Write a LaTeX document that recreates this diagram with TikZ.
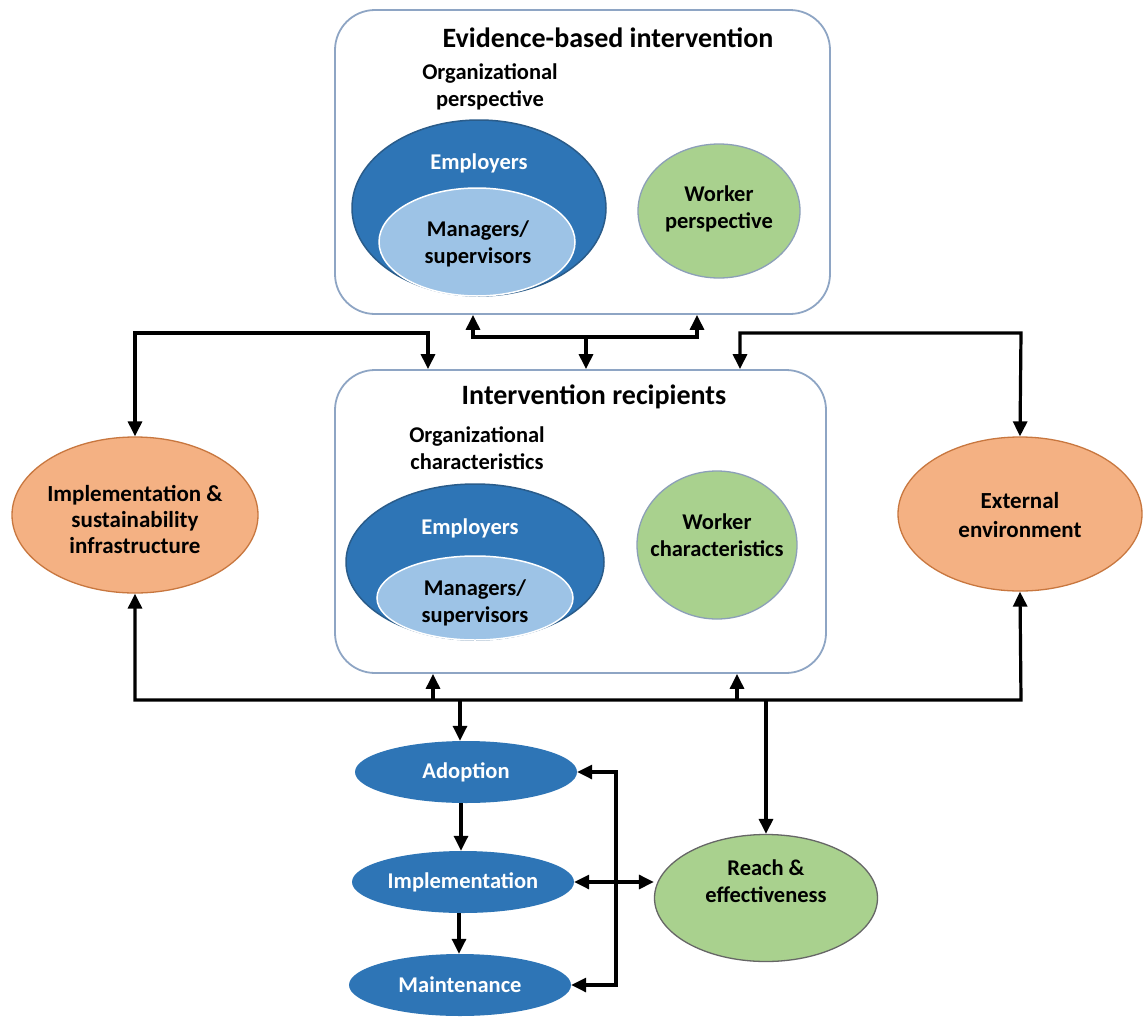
\documentclass[tikz,border=0pt]{standalone}
\usepackage{fontspec}
\setmainfont{Carlito}
\usetikzlibrary{shapes.geometric,arrows.meta,calc}
\definecolor{boxc}{HTML}{8EA5C4}
\definecolor{empf}{HTML}{2E75B6}
\definecolor{empd}{HTML}{2A5C8A}
\definecolor{mgrf}{HTML}{9DC3E6}
\definecolor{grnf}{HTML}{A9D18E}
\definecolor{grnd}{HTML}{8C9FB8}
\definecolor{orgf}{HTML}{F4B183}
\definecolor{orgd}{HTML}{C8773F}
\begin{document}
\begin{tikzpicture}[x=1pt,y=-1pt,
  box/.style={draw=boxc, line width=1.8pt, rounded corners=40pt, fill=white},
  ell/.style={ellipse, inner sep=0pt},
  emp/.style={ell, fill=empf, draw=empd, line width=1.5pt},
  mgr/.style={ell, fill=mgrf, draw=white, line width=1.5pt},
  grn/.style={ell, fill=grnf, draw=grnd, line width=1.3pt},
  org/.style={ell, fill=orgf, draw=orgd, line width=1.3pt},
  blu/.style={ell, fill=empf, draw=none},
  ttl/.style={font=\fontsize{28}{32}\selectfont\bfseries, text=black},
  lbl/.style={font=\fontsize{22.5}{27}\selectfont\bfseries, text=black, align=center},
  wlbl/.style={lbl, text=white},
  con/.style={line width=3.2pt, black},
  arr/.style={con, -{Triangle[length=15pt,width=14pt]}},
  dbl/.style={con, {Triangle[length=15pt,width=14pt]}-{Triangle[length=15pt,width=14pt]}}
]
\useasboundingbox (0,0) rectangle (1144,1026);
\fill[white] (0,0) rectangle (1144,1026);

% top box
\node[box, minimum width=495pt, minimum height=304pt] (top) at (582.5,162) {};
\node[ttl] (toptitle) at (608,38) {Evidence-based intervention};
\node[lbl] (orgp) at (490,87) {Organizational\\perspective};
\node[emp, minimum width=254pt, minimum height=176pt] (emp1) at (479,208) {};
\node[wlbl] (emp1t) at (479,163) {Employers};
\node[mgr, minimum width=196pt, minimum height=108pt] (mgr1) at (477,242) {};
\node[lbl] (mgr1t) at (478,244) {Managers/\\supervisors};
\node[grn, minimum width=162pt, minimum height=134pt] (wp) at (719,211) {};
\node[lbl] (wpt) at (719,209) {Worker\\perspective};

% middle box
\node[box, minimum width=491pt, minimum height=303pt] (mid) at (580.5,521.5) {};
\node[ttl] (midtitle) at (594,397) {Intervention recipients};
\node[lbl] (orgc) at (477,448) {Organizational\\characteristics};
\node[emp, minimum width=258pt, minimum height=156pt] (emp2) at (475,562) {};
\node[wlbl] (emp2t) at (470,528) {Employers};
\node[mgr, minimum width=196pt, minimum height=84pt] (mgr2) at (475,598) {};
\node[lbl] (mgr2t) at (475,603) {Managers/\\supervisors};
\node[grn, minimum width=160pt, minimum height=148pt] (wc) at (717,545) {};
\node[lbl] (wct) at (717,535) {Worker\\characteristics};

% side ellipses
\node[org, minimum width=246pt, minimum height=156pt] (left) at (135,515) {};
\node[lbl, font=\fontsize{23}{26}\selectfont\bfseries] (leftt) at (135,519) {Implementation \&\\sustainability\\infrastructure};
\node[org, minimum width=244pt, minimum height=154pt] (right) at (1020,514) {};
\node[lbl, font=\fontsize{23}{29}\selectfont\bfseries] (rightt) at (1020,515) {External\\environment};

% bottom
\node[blu, minimum width=222pt, minimum height=62pt] (adopt) at (466,772) {};
\node[wlbl] (adoptt) at (466,772) {Adoption};
\node[blu, minimum width=222pt, minimum height=62pt] (impl) at (463,882) {};
\node[wlbl] (implt) at (463,882) {Implementation};
\node[blu, minimum width=222pt, minimum height=62pt] (maint) at (460,985) {};
\node[wlbl] (maintt) at (460,985) {Maintenance};
\node[grn, draw=gray!80!black, minimum width=223pt, minimum height=127pt] (reach) at (766,898) {};
\node[lbl] (reacht) at (766,881) {Reach \&\\effectiveness};

% connectors top <-> middle
\coordinate (hubT) at (586,337);
\coordinate (tl) at ([xshift=-109.5pt]top.south);
\coordinate (tr) at ([xshift=114.5pt]top.south);
\draw[arr] (hubT) -| (tl);
\draw[arr] (hubT) -| (tr);
\draw[arr] (hubT) -- (hubT |- mid.north);

\coordinate (ml) at ([xshift=-152.5pt]mid.north);
\coordinate (mr) at ([xshift=159.5pt]mid.north);
\coordinate (cl) at (135,333);
\coordinate (cr) at (1021,333);
\draw[dbl] (ml) -- (ml |- cl) -- (cl) -- (left.north);
\draw[dbl] (mr) -- (mr |- cr) -- (cr) -- (right.north);

% bottom bus
\coordinate (hubB) at (460,700);
\coordinate (bl) at (135,700);
\coordinate (br) at (1021,700);
\draw[dbl] (left.south) -- (bl) -- (br) -- (right.south);
\coordinate (ua) at ([xshift=-147.5pt]mid.south);
\coordinate (ub) at ([xshift=156.5pt]mid.south);
\draw[arr] (ua |- hubB) -- (ua);
\draw[arr] (ub |- hubB) -- (ub);
\draw[arr] (hubB) -- (hubB |- adopt.north);
\coordinate (rj) at (766,700);
\draw[arr] (rj) -- (reach.north);

% chain
\coordinate (c1) at (461,0);
\draw[arr] (c1 |- adopt.south) -- (c1 |- impl.north);
\coordinate (c2) at (459,0);
\draw[arr] (c2 |- impl.south) -- (c2 |- maint.north);

% bracket
\coordinate (bx) at (616,880);
\draw[dbl] (adopt.east) -| (bx) |- (maint.east);
\draw[dbl] (impl.east) -- (impl.east -| reach.west);
\end{tikzpicture}
\end{document}
